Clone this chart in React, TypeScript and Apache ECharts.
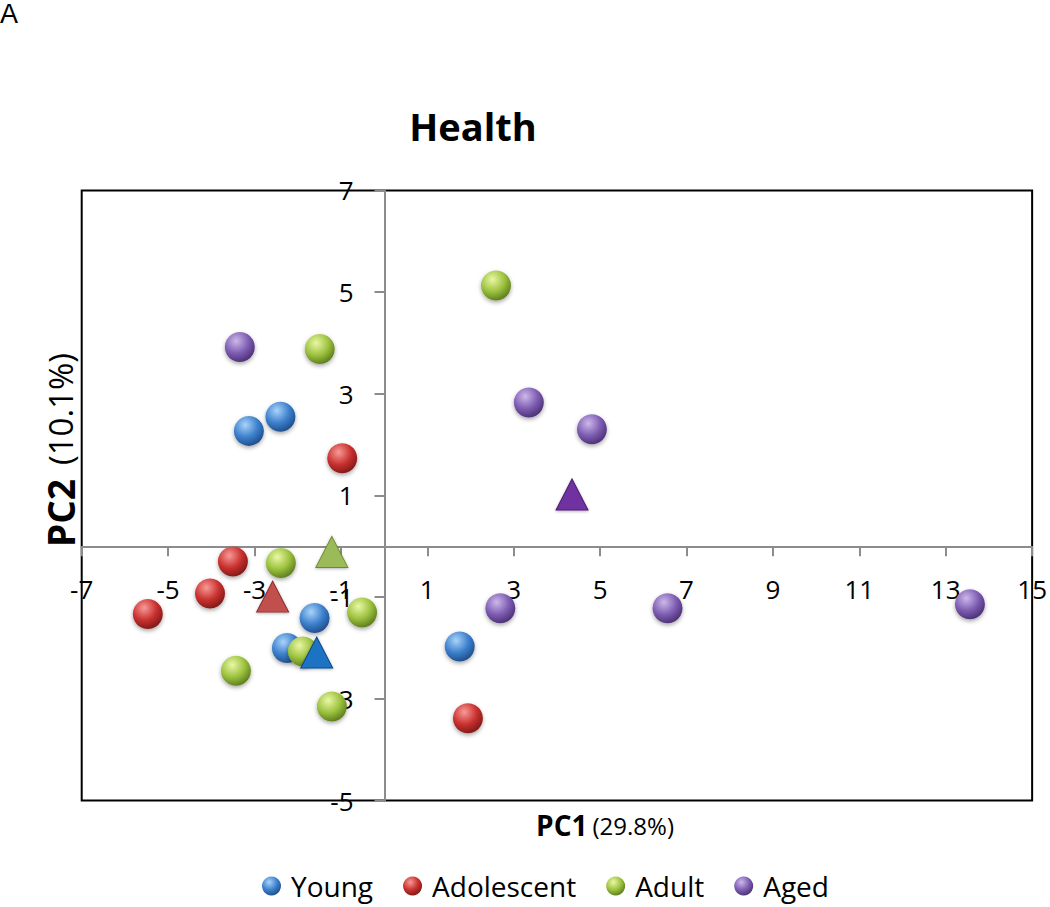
import React, { useEffect, useRef } from "react";
import * as echarts from "echarts";

const seriesNames = ["Young", "Adolescent", "Adult", "Aged"];

const young = [[-3.13, 2.27], [-2.40, 2.55], [-1.61, -1.41], [-2.25, -2.0], [1.75, -1.97]];
const adolescent = [[-0.97, 1.73], [-3.50, -0.30], [-4.03, -0.93], [-5.47, -1.33], [1.94, -3.38]];
const adult = [[2.59, 5.13], [-1.49, 3.88], [-2.39, -0.33], [-0.51, -1.30], [-1.88, -2.07], [-3.43, -2.45], [-1.21, -3.15]];
const aged = [[-3.34, 3.92], [3.35, 2.83], [4.81, 2.30], [2.69, -1.22], [6.56, -1.22], [13.56, -1.14]];

const youngMean = [[-1.56, -2.09]];
const adolescentMean = [[-2.58, -0.99]];
const adultMean = [[-1.21, -0.11]];
const agedMean = [[4.35, 1.02]];

const xMin = -7, xMax = 15, xStep = 2;
const yMin = -5, yMax = 7, yStep = 2;

const FONT = "'Open Sans', 'Noto Sans', sans-serif";

const GRID_LEFT = 81.7;
const GRID_RIGHT = 16.6;
const GRID_TOP = 190.4;
const GRID_BOTTOM = 106.5;
const CHART_W = 1050;
const CHART_H = 907;

function sphere(light: string, base: string, dark: string) {
  return {
    type: "radial",
    x: 0.38,
    y: 0.3,
    r: 0.75,
    colorStops: [
      { offset: 0, color: light },
      { offset: 0.55, color: base },
      { offset: 1, color: dark },
    ],
  };
}

const ballColors = [
  sphere("#a9d3fa", "#3d80cc", "#1d4a86"),
  sphere("#f79a97", "#c9312f", "#7a1816"),
  sphere("#eaf7a6", "#9cc23e", "#58761a"),
  sphere("#cdb8ea", "#7e5db2", "#472d70"),
];

const triColors = [
  { fill: "#1b73c4", stroke: "#0d4a87" },
  { fill: "#c0504d", stroke: "#8a2a28" },
  { fill: "#9bbb59", stroke: "#6d8a32" },
  { fill: "#7030a0", stroke: "#4c1d70" },
];

export default function App() {
  const ref = useRef<HTMLDivElement>(null);
  useEffect(() => {
    if (!ref.current) return;
    const chart = echarts.init(ref.current, null, { renderer: "svg" });
    const ballData = [young, adolescent, adult, aged];
    const meanData = [youngMean, adolescentMean, adultMean, agedMean];
    const series: any[] = [];
    ballData.forEach((d, i) => {
      series.push({
        name: seriesNames[i],
        type: "scatter",
        data: d,
        symbol: "circle",
        symbolSize: 30,
        itemStyle: {
          color: ballColors[i],
          shadowBlur: 4,
          shadowColor: "rgba(0,0,0,0.35)",
          shadowOffsetY: 2,
          opacity: 1,
        },
        z: 3,
      });
    });
    meanData.forEach((d, i) => {
      series.push({
        name: seriesNames[i] + " mean",
        type: "scatter",
        data: d,
        symbol: "triangle",
        symbolSize: [32, 31],
        itemStyle: {
          color: triColors[i].fill,
          borderColor: triColors[i].stroke,
          borderWidth: 1,
          shadowBlur: 3,
          shadowColor: "rgba(0,0,0,0.3)",
          shadowOffsetY: 1,
          opacity: 1,
        },
        z: 4,
      });
    });

    // distance of the zero lines from the grid's bottom / left edges
    const plotH = CHART_H - GRID_TOP - GRID_BOTTOM;
    const plotW = CHART_W - GRID_LEFT - GRID_RIGHT;
    const xZeroFromBottom = ((0 - yMin) / (yMax - yMin)) * plotH;
    const yZeroFromLeft = ((0 - xMin) / (xMax - xMin)) * plotW;

    chart.setOption({
      animation: false,
      backgroundColor: "#ffffff",
      textStyle: { fontFamily: FONT },
      grid: {
        left: GRID_LEFT,
        right: GRID_RIGHT,
        top: GRID_TOP,
        bottom: GRID_BOTTOM,
        show: true,
        borderColor: "#000000",
        borderWidth: 2,
        backgroundColor: "transparent",
      },
      xAxis: {
        type: "value",
        min: xMin,
        max: xMax,
        interval: xStep,
        position: "bottom",
        offset: -xZeroFromBottom,
        splitLine: { show: false },
        axisLine: { show: true, onZero: false, lineStyle: { color: "#8c8c8c", width: 2 } },
        axisTick: { show: true, length: 10, lineStyle: { color: "#8c8c8c", width: 2 } },
        axisLabel: {
          show: true,
          margin: 30,
          color: "#000",
          fontSize: 26,
          fontFamily: FONT,
          showMinLabel: true,
          showMaxLabel: true,
          hideOverlap: false,
        },
      },
      yAxis: {
        type: "value",
        min: yMin,
        max: yMax,
        interval: yStep,
        position: "left",
        offset: -yZeroFromLeft,
        splitLine: { show: false },
        axisLine: { show: true, onZero: false, lineStyle: { color: "#8c8c8c", width: 2 } },
        axisTick: { show: true, length: 10, lineStyle: { color: "#8c8c8c", width: 2 } },
        axisLabel: {
          show: true,
          margin: 31,
          color: "#000",
          fontSize: 26,
          fontFamily: FONT,
          showMinLabel: true,
          showMaxLabel: true,
          hideOverlap: false,
        },
      },
      legend: {
        data: seriesNames,
        left: 257,
        top: 867,
        icon: "circle",
        itemWidth: 19,
        itemHeight: 19,
        itemGap: 30,
        textStyle: { fontSize: 28, color: "#000", fontFamily: FONT, padding: [0, 0, 0, 5] },
      },
      graphic: [
        {
          type: "text",
          left: 0,
          top: 0,
          style: { text: "A", fontSize: 27, fontFamily: "'Liberation Sans', Arial, sans-serif", fill: "#000" },
        },
        {
          type: "text",
          x: 473,
          y: 126,
          style: {
            text: "Health",
            fontSize: 38,
            fontWeight: "bold",
            fontFamily: FONT,
            fill: "#000",
            align: "center",
            verticalAlign: "middle",
          },
        },
        {
          type: "text",
          x: 605,
          y: 825,
          style: {
            text: "{b|PC1}{r|(29.8%)}",
            align: "center",
            verticalAlign: "middle",
            rich: {
              b: { fontSize: 28, fontWeight: "bold", fontFamily: FONT, fill: "#000", padding: [0, 5, 0, 0] },
              r: { fontSize: 24, fontFamily: FONT, fill: "#000" },
            },
          },
        },
        {
          type: "text",
          x: 60,
          y: 450,
          rotation: Math.PI / 2,
          style: {
            text: "{b|PC2}{r|(10.1%)}",
            align: "center",
            verticalAlign: "middle",
            rich: {
              b: { fontSize: 37, fontWeight: "bold", fontFamily: FONT, fill: "#000", padding: [0, 14, 0, 0] },
              r: { fontSize: 33, fontFamily: FONT, fill: "#000" },
            },
          },
        },
      ],
      series,
    });
    return () => chart.dispose();
  }, []);
  return (
    <div
      ref={ref}
      style={{ position: "fixed", left: 0, top: 0, width: CHART_W, height: CHART_H }}
    />
  );
}
